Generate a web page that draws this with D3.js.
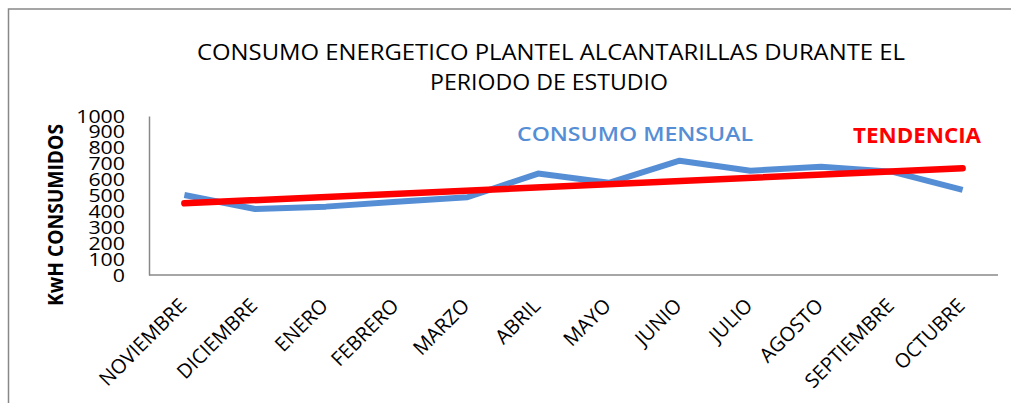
<!DOCTYPE html>
<html>
<head>
<meta charset="utf-8">
<script src="https://cdn.jsdelivr.net/npm/d3@7"></script>
<style>
  body { margin: 0; background: #fff; }
  text { font-family: "Open Sans", sans-serif; }
</style>
</head>
<body>
<script>
// data
var meses = ["NOVIEMBRE", "DICIEMBRE", "ENERO", "FEBRERO", "MARZO", "ABRIL",
             "MAYO", "JUNIO", "JULIO", "AGOSTO", "SEPTIEMBRE", "OCTUBRE"];
var consumo = [503, 415, 430, 461, 489, 638, 580, 719, 656, 681, 650, 535];
// trend line: end points only
var tendenciaMeses = ["NOVIEMBRE", "OCTUBRE"];
var tendencia = [451, 671];
var yTicks = [0, 100, 200, 300, 400, 500, 600, 700, 800, 900, 1000];

var W = 1011, H = 403;
var plot = {left: 149, right: 998, top: 116, bottom: 275};

var svg = d3.select("body")
    .append("svg")
    .attr("width", W)
    .attr("height", H);

// outer chart frame (only top/left visible)
svg.append("rect")
    .attr("x", 8.5).attr("y", 9)
    .attr("width", W + 20).attr("height", H + 20)
    .attr("fill", "none")
    .attr("stroke", "#888")
    .attr("stroke-width", 1.5);

var x = d3.scalePoint()
    .domain(meses)
    .range([plot.left, plot.right])
    .padding(0.5);

var y = d3.scaleLinear()
    .domain([0, 1000])
    .range([plot.bottom, plot.top]);

// title
var title = svg.append("g").attr("font-size", 22).attr("fill", "#000");
title.append("text")
    .attr("x", 551).attr("y", 60)
    .attr("text-anchor", "middle")
    .attr("textLength", 708)
    .attr("lengthAdjust", "spacingAndGlyphs")
    .text("CONSUMO ENERGETICO  PLANTEL ALCANTARILLAS DURANTE EL");
title.append("text")
    .attr("x", 549).attr("y", 90)
    .attr("text-anchor", "middle")
    .attr("textLength", 238)
    .attr("lengthAdjust", "spacingAndGlyphs")
    .text("PERIODO DE ESTUDIO");

// axes lines
var yAxis = svg.append("g")
    .attr("transform", "translate(" + plot.left + ",0)")
    .call(d3.axisLeft(y).tickValues(yTicks).tickFormat(d3.format("d")).tickSize(0).tickPadding(24));
yAxis.select(".domain").attr("stroke", "#888").attr("stroke-width", 1.5);
yAxis.selectAll("text")
    .attr("font-size", 19)
    .attr("font-family", "Open Sans, sans-serif")
    .attr("fill", "#000")
    .attr("dy", "0.32em")
    .attr("textLength", function(d) { return String(d).length * 12.2; })
    .attr("lengthAdjust", "spacingAndGlyphs");

var xAxis = svg.append("g")
    .attr("transform", "translate(0," + plot.bottom + ")")
    .call(d3.axisBottom(x).tickSize(0).tickSizeOuter(0));
xAxis.select(".domain")
    .attr("d", "M" + plot.left + ",0H" + plot.right)
    .attr("stroke", "#888").attr("stroke-width", 1.5);
xAxis.selectAll("text")
    .attr("font-size", 20)
    .attr("font-family", "Open Sans, sans-serif")
    .attr("fill", "#000")
    .attr("text-anchor", "end")
    .attr("dy", null)
    .attr("y", null)
    .attr("transform", "translate(3,32) rotate(-45)");

// y axis title
svg.append("text")
    .attr("transform", "translate(63,215) rotate(-90)")
    .attr("text-anchor", "middle")
    .attr("font-size", 21)
    .attr("font-weight", "bold")
    .attr("textLength", 182)
    .attr("lengthAdjust", "spacingAndGlyphs")
    .text("KwH CONSUMIDOS");

// lines
var line = d3.line()
    .x(function(d) { return x(d.mes); })
    .y(function(d) { return y(d.v); });

svg.append("path")
    .datum(meses.map(function(m, i) { return {mes: m, v: consumo[i]}; }))
    .attr("d", line)
    .attr("fill", "none")
    .attr("stroke", "#558ed5")
    .attr("stroke-width", 6)
    .attr("stroke-linejoin", "round");

svg.append("path")
    .datum(tendenciaMeses.map(function(m, i) { return {mes: m, v: tendencia[i]}; }))
    .attr("d", line)
    .attr("fill", "none")
    .attr("stroke", "#ff0000")
    .attr("stroke-width", 6.5)
    .attr("stroke-linecap", "round");

// series labels
svg.append("text")
    .attr("x", 517).attr("y", 141)
    .attr("font-size", 20)
    .attr("font-weight", 600)
    .attr("fill", "#558ed5")
    .attr("textLength", 236)
    .attr("lengthAdjust", "spacingAndGlyphs")
    .text("CONSUMO MENSUAL");

svg.append("text")
    .attr("x", 853).attr("y", 143)
    .attr("font-size", 21)
    .attr("font-weight", "bold")
    .attr("fill", "#ff0000")
    .attr("textLength", 128)
    .attr("lengthAdjust", "spacingAndGlyphs")
    .text("TENDENCIA");
</script>
</body>
</html>
